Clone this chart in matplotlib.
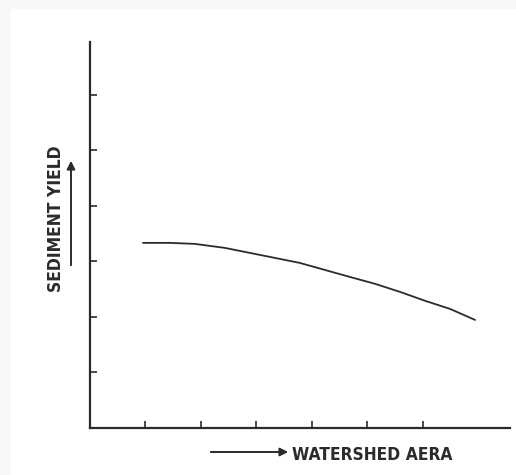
#!/usr/bin/env python3

import numpy as np
import matplotlib
matplotlib.use("Agg")
import matplotlib.pyplot as plt
from matplotlib.patches import Rectangle

# Curve (tick spacing = 1 unit)
area = [0.955, 1.44, 1.89, 2.43, 2.97, 3.42, 3.78, 4.23, 4.68, 5.14, 5.59, 6.04, 6.49, 6.94]
yield_ = [3.333, 3.333, 3.315, 3.243, 3.135, 3.045, 2.973, 2.847, 2.721, 2.595,
          2.45, 2.29, 2.144, 1.946]
xticks = [1, 2, 3, 4, 5, 6]
yticks = [1, 2, 3, 4, 5, 6]

W, H = 516, 475
ink = "#2b2b2b"

fig = plt.figure(figsize=(W / 100, H / 100), dpi=100)
fig.patch.set_facecolor("#f7f7f7")
fig.patches.append(
    Rectangle((11 / W, 0), 1 - 11 / W, 1 - 9 / H, transform=fig.transFigure,
              facecolor="white", edgecolor="none", zorder=-10)
)

# axes box in pixels: x 90..510, y 42..428
ax = fig.add_axes([90 / W, (H - 428) / H, 420 / W, 386 / H])
ax.set_facecolor("none")
ax.plot(area, yield_, color=ink, linewidth=1.3, solid_capstyle="round",
        solid_joinstyle="round")

ax.set_xlim(0, 7.57)
ax.set_ylim(0, 6.95)
ax.set_xticks(xticks)
ax.set_yticks(yticks)
ax.tick_params(direction="in", length=5, width=1.2, colors=ink,
               labelbottom=False, labelleft=False)
for s in ["top", "right"]:
    ax.spines[s].set_visible(False)
for s in ["left", "bottom"]:
    ax.spines[s].set_linewidth(1.6)
    ax.spines[s].set_color(ink)

# labels with arrows
font = dict(fontsize=12.5, fontweight="bold", fontstretch="condensed",
            color=ink, family="DejaVu Sans")
fig.text(292 / W, 1 - 455 / H, "WATERSHED AERA", ha="left", va="center", **font)
fig.text(56 / W, 1 - 219 / H, "SEDIMENT YIELD", ha="center", va="center",
         rotation=90, **font)

arrow = dict(arrowstyle="-|>", color=ink, lw=1.4, mutation_scale=12)
ax.annotate("", xy=(291, H - 452), xytext=(208, H - 452),
            xycoords="figure pixels", textcoords="figure pixels", arrowprops=arrow,
            annotation_clip=False)
ax.annotate("", xy=(71, H - 158), xytext=(71, H - 268),
            xycoords="figure pixels", textcoords="figure pixels", arrowprops=arrow,
            annotation_clip=False)

fig.savefig("out.png", dpi=100, facecolor=fig.get_facecolor())
